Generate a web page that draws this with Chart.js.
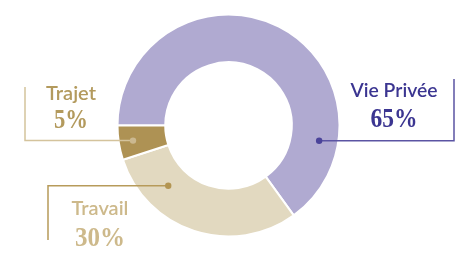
<!DOCTYPE html>
<html>
<head>
<meta charset="utf-8">
<script src="https://cdn.jsdelivr.net/npm/chart.js@4/dist/chart.umd.min.js"></script>
<style>
    html, body { margin: 0; padding: 0; background: #fff; }
    #wrap { width: 476px; height: 272px; }
</style>
</head>
<body>
<div id="wrap"><canvas id="chart"></canvas></div>
<script>
let labels = ["Vie Privée", "Travail", "Trajet"];
let values = [65, 30, 5];
let sliceColors = ["#b0aad1", "#e2d9c0", "#ae9254"];

// callout styling / placement for each slice (same order as labels)
let callouts = [
    { along: 0.81, depth: 0.60, elbowX: 454, endY: 79, textX: 394, nameY: 97, pctY: 127, nameW: 87, pctW: 47,
      text: "#3b3591", line: "#5b54a3", dot: "#4a439a" },
    { along: 0.75, depth: 0.46, elbowX: 48, endY: 240, textX: 100, nameY: 215, pctY: 246, nameW: 59, pctW: 50,
      text: "#cdb98b", line: "#b79b5a", dot: "#b39552" },
    { along: 0.50, depth: 0.70, elbowX: 25, endY: 87, textX: 71, nameY: 100, pctY: 128, nameW: 50, pctW: 34,
      text: "#b39a5d", line: "#d4c39c", dot: "#cbb890" }
];

const calloutPlugin = {
    id: "callouts",
    afterDatasetsDraw(chart) {
        let ctx = chart.ctx;
        let arcs = chart.getDatasetMeta(0).data;
        arcs.forEach((arc, i) => {
            let c = callouts[i];
            let p = arc.getProps(["x", "y", "startAngle", "endAngle", "innerRadius", "outerRadius"], true);
            let a = p.startAngle + (p.endAngle - p.startAngle) * c.along;
            let r = p.innerRadius + (p.outerRadius - p.innerRadius) * c.depth;
            let dx = p.x + Math.cos(a) * r;
            let dy = p.y + Math.sin(a) * r;

            ctx.save();
            ctx.strokeStyle = c.line;
            ctx.lineWidth = 1.5;
            ctx.beginPath();
            ctx.moveTo(dx, dy);
            ctx.lineTo(c.elbowX, dy);
            ctx.lineTo(c.elbowX, c.endY);
            ctx.stroke();

            ctx.fillStyle = c.dot;
            ctx.beginPath();
            ctx.arc(dx, dy, 3.2, 0, Math.PI * 2);
            ctx.fill();

            ctx.fillStyle = c.text;
            ctx.textAlign = "center";
            ctx.textBaseline = "alphabetic";
            ctx.font = "600 20px Lato, 'Open Sans', sans-serif";
            ctx.fillText(labels[i], c.textX, c.nameY, c.nameW);
            ctx.font = "bold 27px 'Liberation Serif', 'DejaVu Serif', serif";
            ctx.fillText(values[i] + "%", c.textX, c.pctY, c.pctW);
            ctx.restore();
        });
    }
};

new Chart(document.getElementById("chart"), {
    type: "doughnut",
    data: {
        labels: labels,
        datasets: [{
            data: values,
            backgroundColor: sliceColors,
            borderColor: "#ffffff",
            borderWidth: 2,
            hoverOffset: 0
        }]
    },
    options: {
        responsive: true,
        maintainAspectRatio: false,
        animation: false,
        rotation: -90,
        cutout: "57%",
        layout: { padding: { top: 13.5, bottom: 34.5, left: 0, right: 19 } },
        plugins: {
            legend: { display: false },
            tooltip: { enabled: false }
        }
    },
    plugins: [calloutPlugin]
});
</script>
</body>
</html>
